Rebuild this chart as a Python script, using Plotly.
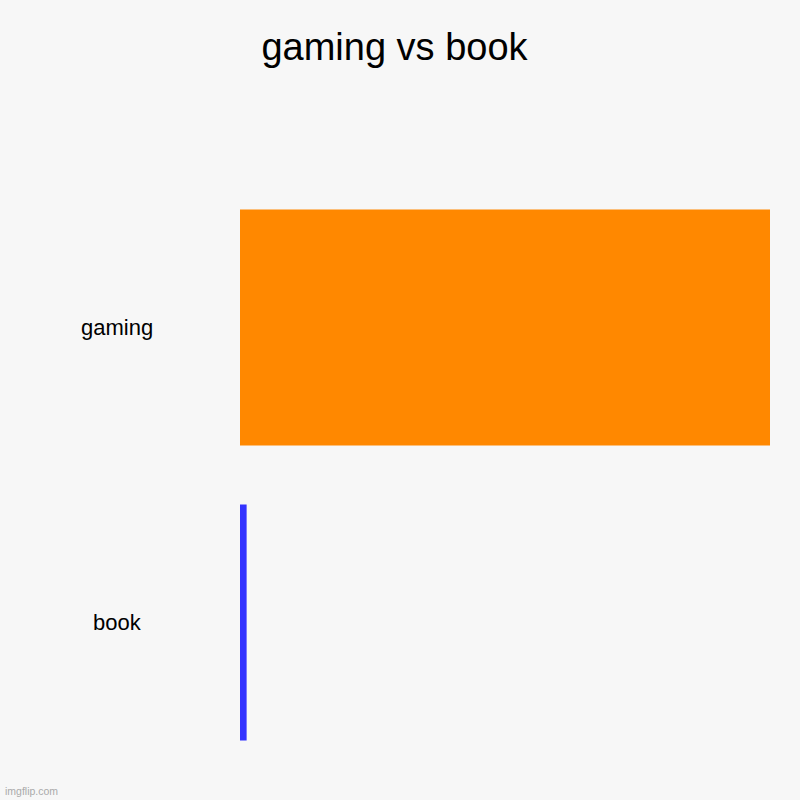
import plotly.graph_objects as go

# chart data
categories = ["gaming", "book"]
values = [100, 1.25]
bar_colors = ["#ff8800", "#3333ff"]

chart_title = "gaming vs book"
bg_color = "#f7f7f7"

W, H = 800, 800
L, R, T, B = 240, 30, 180, 30
plot_w = W - L - R
plot_h = H - T - B

fig = go.Figure()
fig.add_trace(go.Bar(
    x=values,
    y=categories,
    orientation="h",
    marker=dict(color=bar_colors, line=dict(width=0)),
    hoverinfo="skip",
))

# centered category labels (the reference centers them, not right-aligned)
for cat in categories:
    fig.add_annotation(
        x=(117 - L) / plot_w, xref="paper", y=cat, yref="y",
        text=cat, showarrow=False,
        font=dict(family="Liberation Sans, Arial", size=22, color="#000000"),
        xanchor="center", yanchor="middle",
    )

# watermark
fig.add_annotation(
    x=(3 - L) / plot_w, xref="paper", xanchor="left",
    y=-(791 - (H - B)) / plot_h, yref="paper", yanchor="middle",
    text="imgflip.com", showarrow=False,
    font=dict(family="Liberation Sans, Arial", size=10.5, color="#aaaaaa"),
)

fig.update_layout(
    width=W, height=H,
    paper_bgcolor=bg_color, plot_bgcolor=bg_color,
    margin=dict(l=L, r=R, t=T, b=B),
    title=dict(
        text=chart_title, x=394.5 / W, xanchor="center",
        y=1 - 47 / H, yref="container", yanchor="middle",
        font=dict(family="Liberation Sans, Arial", size=38, color="#000000"),
    ),
    bargap=0.2,
    showlegend=False,
    xaxis=dict(range=[0, values[0]], visible=False, fixedrange=True),
    yaxis=dict(autorange="reversed", showticklabels=False, showgrid=False,
               zeroline=False, showline=False, ticks="", fixedrange=True),
)

fig.write_html("out.html", config={"displayModeBar": False},
               post_script="document.body.style.margin='0';")
